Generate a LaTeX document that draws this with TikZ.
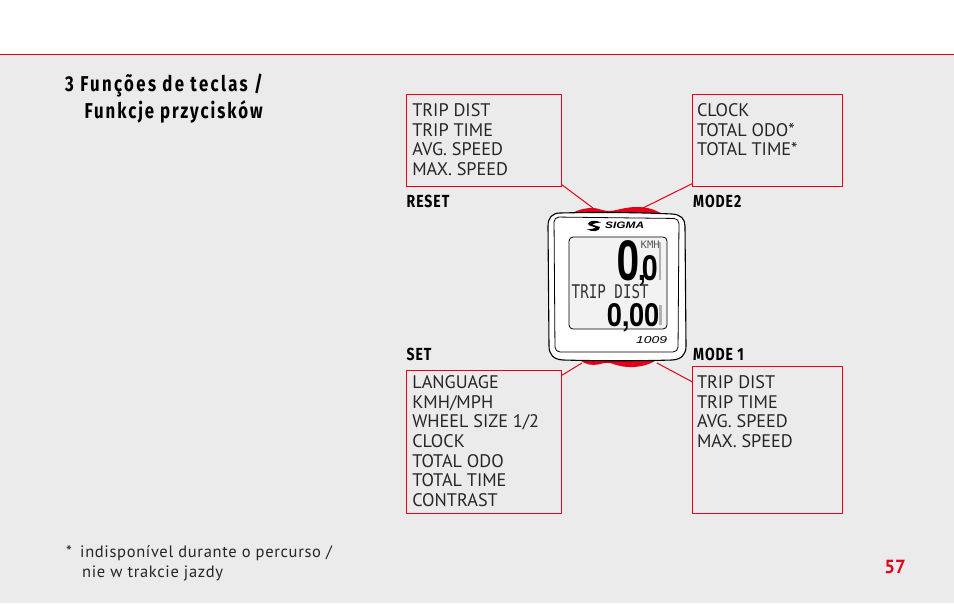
\documentclass[tikz,border=0pt]{standalone}
\usepackage{fontspec}
\usepackage{graphicx}
\setmainfont{PT Sans}
\newfontfamily\headfont[FakeStretch=0.78,LetterSpace=11]{Fira Sans Bold}
\newfontfamily\headfontb[FakeStretch=0.78,LetterSpace=9]{Fira Sans Bold}
\newfontfamily\labfont[FakeStretch=0.8,LetterSpace=5.5]{Fira Sans Bold}
\newfontfamily\footfont[LetterSpace=4]{PT Sans}
\newfontfamily\lcdfont{DejaVu Sans Mono}
\newfontfamily\digitfont{TeX Gyre Heros Bold}
\newfontfamily\brandfont{Liberation Sans Bold Italic}
\newfontfamily\numfont{Liberation Sans Italic}
\definecolor{sred}{HTML}{E2001A}
\definecolor{pagegrey}{HTML}{EBEBEB}
\definecolor{lcdgrey}{HTML}{F2F2F2}
\newcommand{\boxtxt}[5]{\parbox[b][#1][t]{#2}{\vspace*{#3}\raggedright\leftskip=#4\relax #5\par}}
\tikzset{
  x=1pt,y=-1pt,
  infobox/.style={draw=sred,line width=.9pt,anchor=north west,inner sep=0pt,outer sep=0pt,align=left},
  boxtext/.style={font=\fontsize{18.2}{19.65}\selectfont,text=black!85},
  keylabel/.style={anchor=base west,inner sep=0pt,font=\labfont\fontsize{17.5}{18}\selectfont},
  heading/.style={anchor=base west,inner sep=0pt,font=\fontsize{21.5}{22}\selectfont},
  foot/.style={anchor=base west,inner sep=0pt,font=\footfont\fontsize{16.5}{17}\selectfont,text=black!85},
  lead/.style={sred,line width=1pt},
  button/.style={fill=sred,draw=none},
  body/.style={draw=black,line width=1.1pt,fill=white},
  lcdtext/.style={inner sep=0pt,anchor=base west,text=black},
  ghost/.style={fill=black!30,draw=none},
}
\begin{document}
\begin{tikzpicture}
\useasboundingbox (0,0) rectangle (954,603);
\fill[pagegrey] (0,54) rectangle (954,603);
\draw[sred,line width=1pt] (0,54) -- (954,54);
\node[heading] (h1) at (65,91) {\headfont 3 Funções de teclas /};
\node[heading] (h2) at (84.5,118) {\headfontb Funkcje przycisków};
\node[foot] (f0) at (66,557) {*};
\node[foot] (f1) at (80,557) {indisponível durante o percurso /};
\node[foot] (f2) at (82,577) {nie w trakcie jazdy};
\node[anchor=base east,inner sep=0pt,text=sred,font=\fontsize{19}{20}\selectfont\bfseries] (pn) at (906,573) {57};
% buttons
\fill[button] (571,214) .. controls (578,209) and (590,207) .. (597,208.5) .. controls (602,210) and (606,211) .. (609,211) .. controls (616,211) and (624,207) .. (637,207) .. controls (648,207) and (656,210) .. (662,214) -- cycle;
\fill[button] (579,359) .. controls (585,365) and (592,365.5) .. (598,364.5) .. controls (602,363.5) and (606,362.5) .. (610,363) .. controls (616,365) and (624,367.5) .. (633,367) .. controls (643,366.5) and (651,364) .. (658,359) -- cycle;
% connectors' free ends
\coordinate (bReset) at (593,208);
\coordinate (bMode2) at (643,208);
\coordinate (bSet) at (582,363);
\coordinate (bMode1) at (657,363);
% boxes
\node[infobox,boxtext] (reset) at (406.5,94.5) {\boxtxt{92pt}{155pt}{9pt}{5.8pt}{TRIP DIST\\TRIP TIME\\AVG. SPEED\\MAX. SPEED}};
\node[infobox,boxtext] (mode2) at (692.5,94.5) {\boxtxt{92pt}{150pt}{9pt}{4.5pt}{CLOCK\\TOTAL ODO*\\TOTAL TIME*}};
\node[infobox,boxtext] (set) at (406.5,370.5) {\boxtxt{143pt}{155pt}{5pt}{5.8pt}{LANGUAGE\\KMH/MPH\\WHEEL SIZE 1/2\\CLOCK\\TOTAL ODO\\TOTAL TIME\\CONTRAST}};
\node[infobox,boxtext] (mode1) at (692.5,366.5) {\boxtxt{147pt}{150pt}{9pt}{4.5pt}{TRIP DIST\\TRIP TIME\\AVG. SPEED\\MAX. SPEED}};
\draw[lead] (reset.south east) ++(0,-2) -- (bReset);
\draw[lead] (mode2.south west) ++(0,-3) -- (bMode2);
\draw[lead] (set.north east) ++(0,5) -- (bSet);
\draw[lead] (mode1.north west) ++(0,15.5) -- (bMode1);
\node[keylabel] (lreset) at (406.5,207) {RESET};
\node[keylabel] (lmode2) at (693,207) {MODE2};
\node[keylabel] (lset) at (406.5,360) {SET};
\node[keylabel] (lmode1) at (693,360) {MODE 1};
% device
\draw[body] (560,213) .. controls (600,212) and (640,212.5) .. (672,214) .. controls (681,214.5) and (685,219) .. (685,226) -- (686,346) .. controls (686,355) and (681,359.5) .. (672,360) .. controls (640,361) and (600,361) .. (563,360) .. controls (553,359.5) and (549,354) .. (549,346) -- (548,226) .. controls (548,218) and (552,213) .. (560,213) -- cycle;
\draw[draw=black,line width=.8pt,rounded corners=5pt] (554,217) -- (679,218.5) -- (678,352) -- (555,352) -- cycle;
\draw[draw=black,line width=.8pt,fill=lcdgrey,rounded corners=4pt] (569,237) rectangle (667,329);
\node[inner sep=0pt,anchor=west] (brand) at (605,225) {\resizebox{39pt}{6.5pt}{\brandfont SIGMA}};
% logo
\fill (588,224) .. controls (589,220) and (596,220) .. (601,222.5) .. controls (597,223) and (594,223) .. (592,224.5) .. controls (595,226) and (598,226) .. (600,227) .. controls (600,232) and (592,232) .. (587,229.5) .. controls (591,229) and (594,229) .. (596,227.5) .. controls (593,226.5) and (589,226) .. (588,224) -- cycle;
% LCD
\fill[ghost] (658.5,242) rectangle (661,280);
\fill[ghost] (659,305) rectangle (661.5,325);
\node[lcdtext] (big) at (617,280) {\resizebox{22pt}{40pt}{\digitfont 0}};
\node[lcdtext] (big2) at (638,280) {\resizebox{20pt}{25pt}{\digitfont ,\kern-.12em 0}};
\node[lcdtext,text=black!65] (kmh) at (640.5,248.5) {\resizebox{19pt}{7.5pt}{\lcdfont KMH}};
\node[lcdtext,text=black!80] (trip) at (571.5,298) {\resizebox{77pt}{14pt}{\lcdfont TRIP DIST}};
\node[lcdtext] (small) at (607,326) {\resizebox{52pt}{23pt}{\digitfont 0,00}};
\node[inner sep=0pt,anchor=base west] (num) at (636,343) {\resizebox{31pt}{7pt}{\numfont 1009}};
\end{tikzpicture}
\end{document}
